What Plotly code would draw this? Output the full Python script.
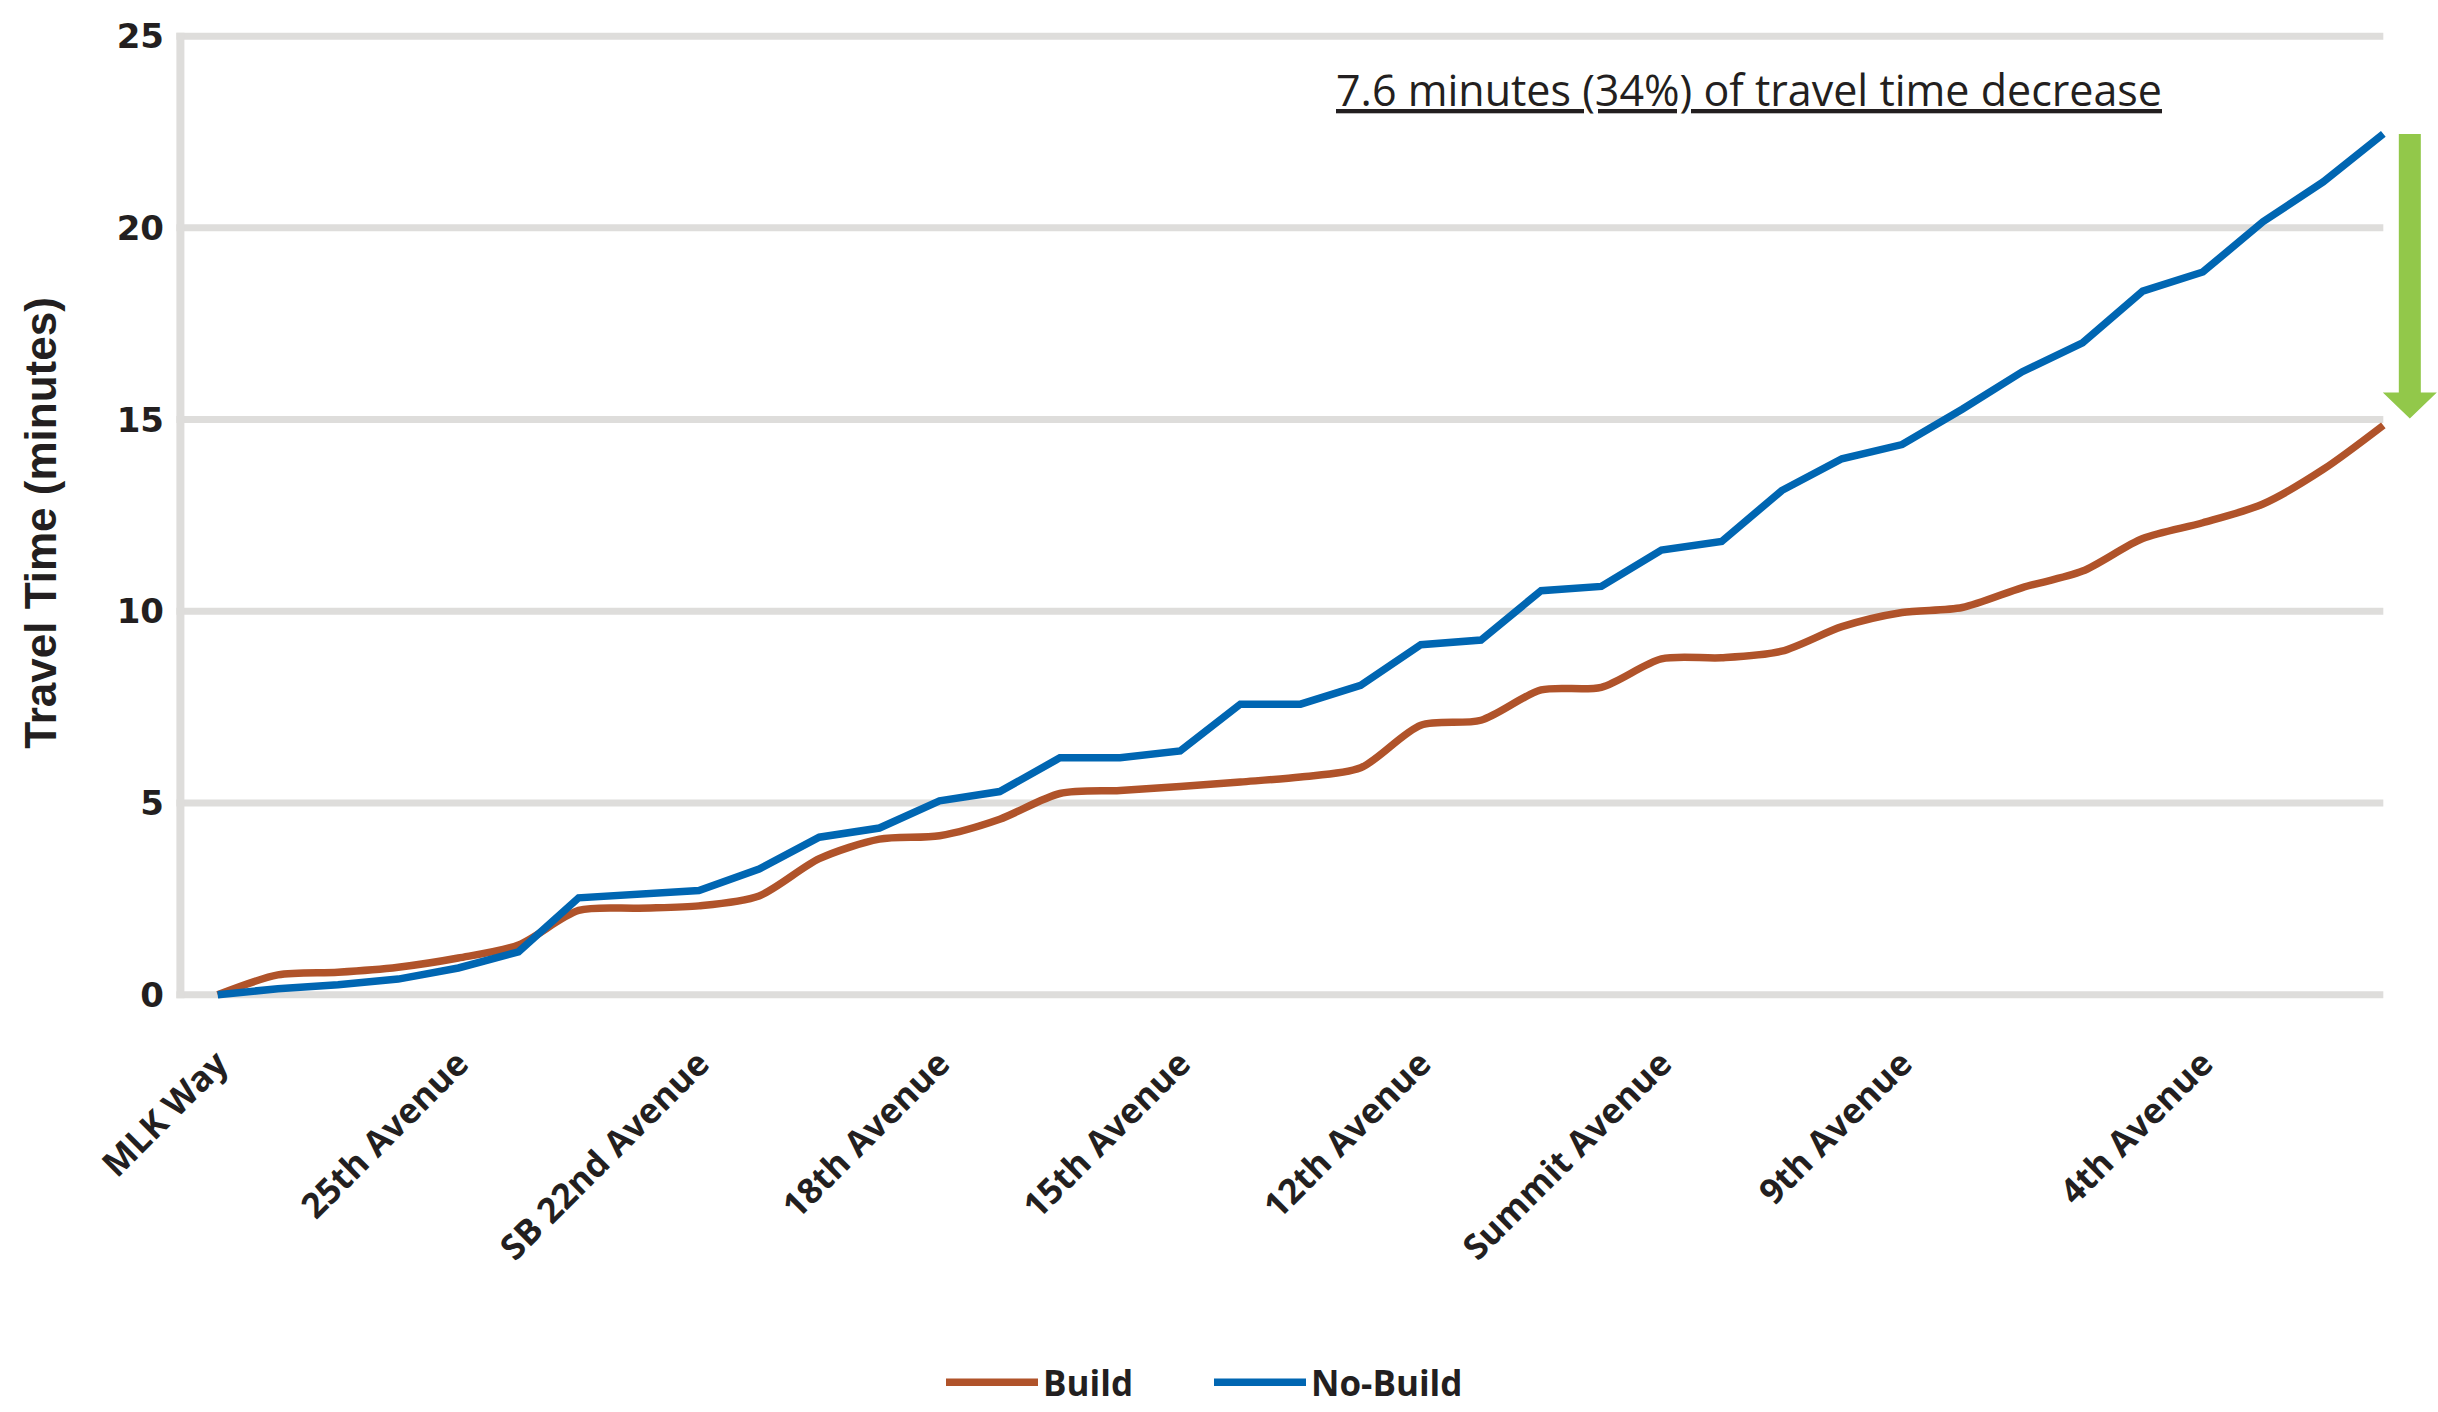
import plotly.graph_objects as go

# Corridor stops shown on the horizontal axis and their segment index
stations = ["MLK Way", "25th Avenue", "SB 22nd Avenue", "18th Avenue", "15th Avenue",
            "12th Avenue", "Summit Avenue", "9th Avenue", "4th Avenue"]
station_index = [0, 4, 8, 12, 16, 20, 24, 28, 33]

# Cumulative travel time (minutes) at each segment along the corridor
segment = list(range(37))
build = [0.00, 0.52, 0.59, 0.72, 0.96, 1.30, 2.20, 2.26, 2.32, 2.58,
         3.55, 4.06, 4.15, 4.58, 5.25, 5.33, 5.43, 5.55, 5.68, 5.92,
         7.03, 7.16, 7.95, 8.02, 8.76, 8.79, 8.96, 9.60, 9.97, 10.10,
         10.62, 11.05, 11.90, 12.31, 12.80, 13.70, 14.85]
no_build = [0.00, 0.16, 0.26, 0.41, 0.70, 1.12, 2.53, 2.61, 2.72, 3.28,
            4.11, 4.35, 5.06, 5.30, 6.18, 6.18, 6.36, 7.58, 7.58, 8.07,
            9.13, 9.25, 10.54, 10.65, 11.60, 11.82, 13.15, 13.98, 14.35, 15.27,
            16.25, 17.00, 18.35, 18.85, 20.16, 21.20, 22.45]
y_ticks = [0, 5, 10, 15, 20, 25]

series_names = ["Build", "No-Build"]
decrease = no_build[-1] - build[-1]
note = f"{decrease:.1f} minutes ({decrease / no_build[-1]:.0%}) of travel time decrease"

ORANGE = "#B0532A"
BLUE = "#0066B2"
GRID = "#DEDDDB"
GREEN = "#92C84A"
INK = "#231F20"

# canvas geometry (px)
W, H = 2438, 1412
M_L, M_R, M_T, M_B = 165, 0, 20, 382
PX_X = 60.156   # px per segment
PX_Y = 38.5     # px per minute
x_lo = -(217.7 - M_L) / PX_X
x_hi = x_lo + (W - M_L - M_R) / PX_X
y_lo = -(H - M_B - 998.7) / PX_Y
y_hi = y_lo + (H - M_T - M_B) / PX_Y
x_axis = -0.62

fig = go.Figure()
fig.add_trace(go.Scatter(x=segment, y=build, name=series_names[0], mode="lines",
                         line=dict(color=ORANGE, width=7.5, shape="spline", smoothing=0.8)))
fig.add_trace(go.Scatter(x=segment, y=no_build, name=series_names[1], mode="lines",
                         line=dict(color=BLUE, width=7.5)))

shapes = []
# horizontal grid lines, ending at the last segment
for v in y_ticks:
    shapes.append(dict(type="line", xref="x", yref="y", layer="below",
                       x0=x_axis - 4 / PX_X, x1=segment[-1], y0=v, y1=v,
                       line=dict(color=GRID, width=7)))
# vertical axis line
shapes.append(dict(type="line", xref="x", yref="y", layer="below",
                   x0=x_axis, x1=x_axis, y0=y_ticks[0] - 3.5 / PX_Y, y1=y_ticks[-1] + 3.5 / PX_Y,
                   line=dict(color=GRID, width=8)))

# green arrow from the No-Build end down to the Build end
cx = segment[-1] + 26.5 / PX_X
sw, hw = 11 / PX_X, 27 / PX_X
tail = no_build[-1]
tip = build[-1] + 7 / PX_Y
base = tip + 26 / PX_Y
arrow = (f"M{cx - sw},{tail} L{cx + sw},{tail} L{cx + sw},{base} L{cx + hw},{base} "
         f"L{cx},{tip} L{cx - hw},{base} L{cx - sw},{base} Z")
shapes.append(dict(type="path", xref="x", yref="y", path=arrow,
                   fillcolor=GREEN, line=dict(width=0)))

fig.update_layout(
    width=W, height=H,
    margin=dict(l=M_L, r=M_R, t=M_T, b=M_B),
    paper_bgcolor="white", plot_bgcolor="white",
    shapes=shapes,
    showlegend=True,
    legend=dict(orientation="h", x=(941 - M_L) / (W - M_L - M_R), xanchor="left",
                y=-(1388 - (H - M_B)) / (H - M_T - M_B), yanchor="middle",
                itemwidth=92, entrywidth=161,
                font=dict(family="Open Sans", size=35, color=INK, weight="bold")),
    xaxis=dict(range=[x_lo, x_hi], tickmode="array", tickvals=station_index, ticktext=stations,
               tickangle=-45, showgrid=False, zeroline=False, showline=False, ticks="",
               ticklabelstandoff=9,
               tickfont=dict(family="Open Sans", size=35, color=INK, weight="bold")),
    yaxis=dict(range=[y_lo, y_hi], tickmode="array", tickvals=y_ticks,
               showgrid=False, zeroline=False, showline=False, ticks="",
               tickfont=dict(family="DejaVu Sans", size=34, color=INK, weight="bold"),
               title=dict(text="Travel Time (minutes)", standoff=46,
                          font=dict(family="Liberation Sans Narrow, Arial Narrow, sans-serif",
                                    size=44, color=INK, weight="bold"))),
    annotations=[dict(x=25.45, y=23.6, xref="x", yref="y", text=f"<u>{note}</u>",
                      showarrow=False, xanchor="center", yanchor="middle",
                      font=dict(family="Open Sans", size=43, color=INK))],
)

fig.write_html("out.html")
